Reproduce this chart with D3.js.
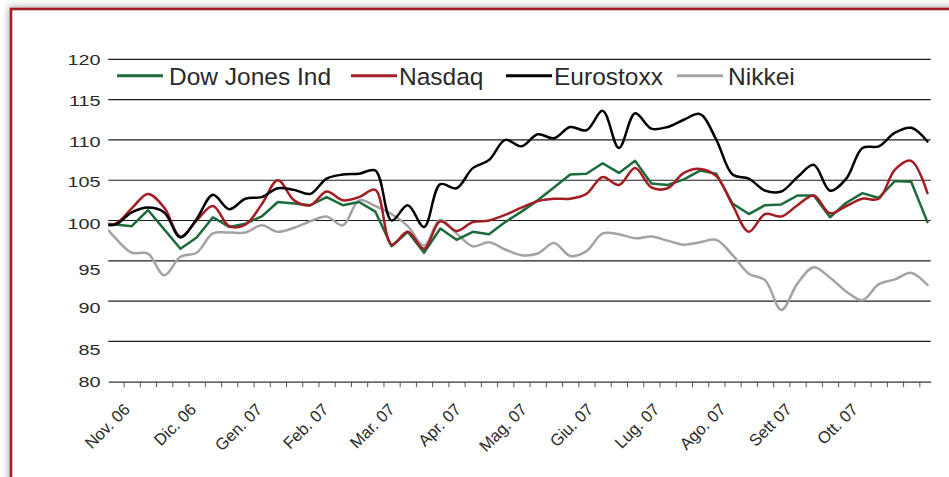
<!DOCTYPE html>
<html><head><meta charset="utf-8">
<script src="https://cdn.jsdelivr.net/npm/d3@7"></script>
<style>html,body{margin:0;padding:0;background:#fff;overflow:hidden}svg{display:block}</style>
</head><body>
<svg id="chart" width="949" height="477"></svg>
<script>
// ---- data (weekly index values; first value is the week before the visible start) ----
const seriesNames = ["Dow Jones Ind", "Nasdaq", "Eurostoxx", "Nikkei"];
const dowJones = [99.7,99.5,99.3,101.3,98.9,96.5,97.9,100.4,99.2,99.6,100.5,102.3,102.1,101.9,102.9,101.9,102.3,101.1,96.8,98.6,96.0,99.0,97.6,98.6,98.3,99.8,101.1,102.5,104.1,105.7,105.8,107.1,105.9,107.4,104.6,104.4,105.1,106.2,105.8,102.1,100.8,101.9,102.0,103.1,103.1,100.4,102.2,103.4,102.8,104.9,104.8,99.8];
const nasdaq = [99.6,99.6,101.5,103.3,101.6,98.0,100.0,101.8,99.3,99.5,102.0,105.0,102.5,101.9,103.6,102.5,102.9,103.8,97.0,98.6,96.5,99.9,98.7,99.8,100.0,100.7,101.6,102.4,102.7,102.7,103.3,105.4,104.4,106.5,104.1,104.0,105.9,106.4,105.5,101.9,98.6,100.8,100.5,101.9,103.1,100.9,101.8,102.7,102.7,106.3,107.4,103.4];
const eurostoxx = [99.6,99.5,101.0,101.6,101.0,97.9,100.2,103.2,101.4,102.7,102.9,104.0,103.8,103.3,105.2,105.7,105.8,106.2,100.0,101.9,99.2,104.5,104.0,106.5,107.5,110.0,109.2,110.7,110.2,111.6,111.2,113.6,109.0,113.3,111.4,111.6,112.5,113.2,110.0,105.7,105.2,103.7,103.6,105.4,106.9,103.7,105.2,109.0,109.2,110.9,111.5,109.8];
const nikkei = [100.2,97.8,96.0,95.9,93.2,95.5,96.0,98.4,98.5,98.5,99.4,98.6,99.1,99.9,100.5,99.4,102.5,101.8,100.8,99.3,96.9,100.1,98.4,96.8,97.3,96.4,95.7,95.9,97.2,95.6,96.2,98.4,98.3,97.8,98.0,97.5,97.0,97.3,97.6,95.7,93.4,92.6,88.9,92.2,94.2,92.9,91.2,90.1,92.1,92.7,93.5,92.0];
const monthLabels = ["Nov. 06","Dic. 06","Gen. 07","Feb. 07","Mar. 07","Apr. 07","Mag. 07","Giu. 07","Lug. 07","Ago. 07","Sett 07","Ott. 07"];
const yTicks = [80,85,90,95,100,105,110,115,120];

// ---- styling / layout ----
const colors = ["#1d6b3b", "#a31d24", "#000000", "#a3a3a3"];
const allSeries = [dowJones, nasdaq, eurostoxx, nikkei];
const yLabelNudge = [-1.5, 6.5, 5, 7.5, 1, 0, 0.5, -0.5, -1.5]; // per tick label, matching reference placement
const legendLineX = [117, 351, 506, 677];
const legendTextX = [169, 399, 554, 728];

const svg = d3.select("#chart");
const defs = svg.append("defs");
const f = defs.append("filter").attr("id","sh").attr("x","-5%").attr("y","-5%").attr("width","110%").attr("height","110%");
f.append("feDropShadow").attr("dx",-1).attr("dy",-1).attr("stdDeviation",3.5).attr("flood-color","#000").attr("flood-opacity",0.35);
defs.append("clipPath").attr("id","plotclip").append("rect").attr("x",108.3).attr("y",0).attr("width",822.4).attr("height",477);

// frame
svg.append("rect").attr("x",11).attr("y",9).attr("width",1000).attr("height",600)
  .attr("fill","#fff").attr("stroke","#a51c22").attr("stroke-width",2.6).attr("filter","url(#sh)");

const x = d3.scaleLinear().domain([-0.443, 50.2]).range([108.3, 930.7]);
const y = d3.scaleLinear().domain([80, 120]).range([381.7, 59.3]);

// grid
svg.append("g").selectAll("line").data(yTicks.filter(v => v > 80)).join("line")
  .attr("x1", x(-0.443)).attr("x2", x(50.2))
  .attr("y1", d => y(d)).attr("y2", d => y(d))
  .attr("stroke","#1c1c1c").attr("stroke-width",1.15);

// y labels
svg.append("g").selectAll("text").data(yTicks).join("text")
  .attr("transform", (d,i) => `translate(100.5,${y(d) + 7 + yLabelNudge[i]}) scale(1.28,1)`)
  .attr("text-anchor","end")
  .attr("font-family","'Liberation Sans', Arial, sans-serif").attr("font-size",15.5).attr("fill","#2a2a2a")
  .text(d => d);

// x axis
const xAxis = d3.axisBottom(x)
  .tickValues(d3.range(50).map(k => k + 0.5))
  .tickSize(5.5).tickSizeOuter(0).tickFormat("");
const gx = svg.append("g").attr("transform", `translate(0,${y(80)})`).call(xAxis);
gx.select(".domain").attr("stroke","#333").attr("stroke-width",1.2);
gx.selectAll(".tick line").attr("stroke","#555").attr("stroke-width",1);

// month labels
const xm = d3.scalePoint().domain(monthLabels).range([131, 859]);
svg.append("g").selectAll("text").data(monthLabels).join("text")
  .attr("transform", d => `translate(${xm(d)},410.5) rotate(-45)`)
  .attr("text-anchor","end")
  .attr("font-family","'Liberation Sans', Arial, sans-serif").attr("font-size",16.5).attr("fill","#2a2a2a")
  .text(d => d);

// lines
const lineSmooth = d3.line().x((d,i) => x(i - 1)).y(d => y(d)).curve(d3.curveCatmullRom.alpha(0.5));
const lineStraight = d3.line().x((d,i) => x(i - 1)).y(d => y(d));
const gl = svg.append("g").attr("clip-path","url(#plotclip)");
// draw order: nikkei, dow, nasdaq, eurostoxx
[3,0,1,2].forEach(s => {
  gl.append("path").datum(allSeries[s])
    .attr("d", s === 0 ? lineStraight : lineSmooth)
    .attr("fill","none").attr("stroke",colors[s]).attr("stroke-width",2.5)
    .attr("stroke-linejoin","round").attr("stroke-linecap","round");
});

// legend
const lg = svg.append("g");
seriesNames.forEach((n,i) => {
  lg.append("line").attr("x1",legendLineX[i]).attr("x2",legendLineX[i]+46).attr("y1",75.7).attr("y2",75.7)
    .attr("stroke",colors[i]).attr("stroke-width",3);
  lg.append("text").attr("x",legendTextX[i]).attr("y",85)
    .attr("font-family","'Liberation Sans', Arial, sans-serif").attr("font-size",24.5).attr("fill","#2a2a2a")
    .text(n);
});
</script>
</body></html>
